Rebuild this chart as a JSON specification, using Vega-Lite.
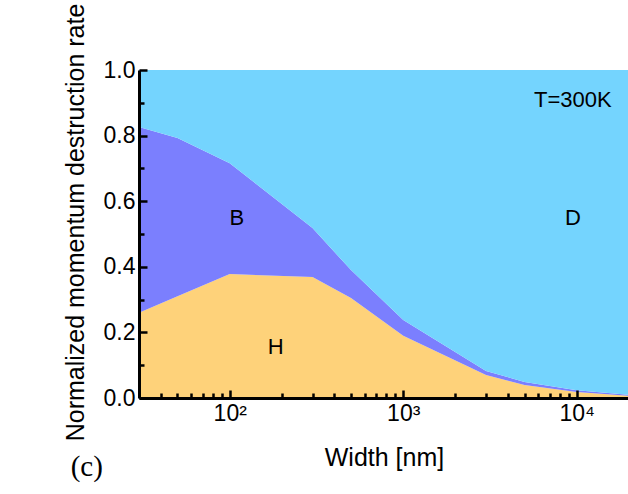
{
  "$schema": "https://vega.github.io/schema/vega-lite/v6.json",
  "width": 490,
  "height": 328,
  "autosize": {"type": "none"},
  "padding": {"left": 139, "top": 70, "right": 0, "bottom": 96},
  "background": "white",
  "config": {
    "view": {"stroke": "#444", "strokeWidth": 1},
    "font": "Liberation Sans",
    "axis": {
      "domainColor": "black", "domainWidth": 3, "tickColor": "black", "tickWidth": 2.5,
      "labelColor": "black", "labelFont": "Liberation Sans", "labelFontSize": 23,
      "titleColor": "black", "titleFont": "Liberation Sans", "titleFontSize": 25, "titleFontWeight": "normal",
      "grid": false
    }
  },
  "resolve": {"axis": {"x": "independent", "y": "independent"}},
  "layer": [
    {
      "data": {"values": [
        {"w": 30, "m": "H", "k": 1, "v": 0.26}, {"w": 30, "m": "B", "k": 2, "v": 0.566}, {"w": 30, "m": "D", "k": 3, "v": 0.174},
        {"w": 50, "m": "H", "k": 1, "v": 0.31}, {"w": 50, "m": "B", "k": 2, "v": 0.483}, {"w": 50, "m": "D", "k": 3, "v": 0.207},
        {"w": 100, "m": "H", "k": 1, "v": 0.378}, {"w": 100, "m": "B", "k": 2, "v": 0.338}, {"w": 100, "m": "D", "k": 3, "v": 0.284},
        {"w": 300, "m": "H", "k": 1, "v": 0.369}, {"w": 300, "m": "B", "k": 2, "v": 0.149}, {"w": 300, "m": "D", "k": 3, "v": 0.482},
        {"w": 500, "m": "H", "k": 1, "v": 0.305}, {"w": 500, "m": "B", "k": 2, "v": 0.085}, {"w": 500, "m": "D", "k": 3, "v": 0.61},
        {"w": 1000, "m": "H", "k": 1, "v": 0.19}, {"w": 1000, "m": "B", "k": 2, "v": 0.048}, {"w": 1000, "m": "D", "k": 3, "v": 0.762},
        {"w": 3000, "m": "H", "k": 1, "v": 0.07}, {"w": 3000, "m": "B", "k": 2, "v": 0.012}, {"w": 3000, "m": "D", "k": 3, "v": 0.918},
        {"w": 5000, "m": "H", "k": 1, "v": 0.04}, {"w": 5000, "m": "B", "k": 2, "v": 0.009}, {"w": 5000, "m": "D", "k": 3, "v": 0.951},
        {"w": 10000, "m": "H", "k": 1, "v": 0.018}, {"w": 10000, "m": "B", "k": 2, "v": 0.006}, {"w": 10000, "m": "D", "k": 3, "v": 0.976},
        {"w": 20000, "m": "H", "k": 1, "v": 0.007}, {"w": 20000, "m": "B", "k": 2, "v": 0.003}, {"w": 20000, "m": "D", "k": 3, "v": 0.99}
      ]},
      "mark": {"type": "area", "interpolate": "linear", "clip": true},
      "encoding": {
        "x": {"field": "w", "type": "quantitative",
              "scale": {"type": "log", "domain": [30, 20000], "nice": false},
              "axis": {"orient": "bottom", "zindex": 2, "values": [100, 1000, 10000], "tickSize": -8, "labelPadding": 12,
                       "labelExpr": "datum.value == 100 ? '10²' : datum.value == 1000 ? '10³' : '10⁴'",
                       "title": "Width [nm]", "titlePadding": 20}},
        "y": {"field": "v", "type": "quantitative", "stack": "zero",
              "scale": {"domain": [0, 1], "nice": false},
              "axis": {"orient": "left", "zindex": 2, "values": [0, 0.2, 0.4, 0.6, 0.8, 1.0], "format": ".1f", "tickSize": -8, "labelPadding": 12,
                       "title": "Normalized momentum destruction rate", "titleX": -51, "titleY": 152}},
        "color": {"field": "m", "type": "nominal",
                  "scale": {"domain": ["H", "B", "D"], "range": ["#FED27A", "#7B7FFE", "#74D4FE"]},
                  "legend": null},
        "order": {"field": "k", "type": "quantitative"}
      }
    },
    {
      "data": {"values": [
        {"lx": 110, "ly": 0.55, "t": "B"},
        {"lx": 184, "ly": 0.155, "t": "H"},
        {"lx": 9500, "ly": 0.55, "t": "D"}
      ]},
      "mark": {"type": "text", "fontSize": 22, "color": "black", "align": "center", "baseline": "middle"},
      "encoding": {
        "x": {"field": "lx", "type": "quantitative",
              "axis": {"orient": "bottom", "zindex": 2, "values": [40, 50, 60, 70, 80, 90, 200, 300, 400, 500, 600, 700, 800, 900, 2000, 3000, 4000, 5000, 6000, 7000, 8000, 9000, 20000],
                       "tickSize": -5, "labels": false, "domain": false, "title": null}},
        "y": {"field": "ly", "type": "quantitative",
              "axis": {"orient": "left", "zindex": 2, "values": [0.1, 0.3, 0.5, 0.7, 0.9], "tickSize": -5, "labels": false, "domain": false, "title": null}},
        "text": {"field": "t"}
      }
    },
    {
      "data": {"values": [{"lx": 15900, "ly": 0.908, "t": "T=300K"}]},
      "mark": {"type": "text", "fontSize": 22, "color": "black", "align": "right", "baseline": "middle"},
      "encoding": {
        "x": {"field": "lx", "type": "quantitative", "axis": null},
        "y": {"field": "ly", "type": "quantitative", "axis": null},
        "text": {"field": "t"}
      }
    },
    {
      "data": {"values": [{"lx": 15, "ly": -0.21, "t": "(c)"}]},
      "mark": {"type": "text", "fontSize": 29, "font": "Liberation Serif", "color": "black", "align": "center", "baseline": "middle"},
      "encoding": {
        "x": {"field": "lx", "type": "quantitative", "axis": null},
        "y": {"field": "ly", "type": "quantitative", "axis": null},
        "text": {"field": "t"}
      }
    }
  ]
}
